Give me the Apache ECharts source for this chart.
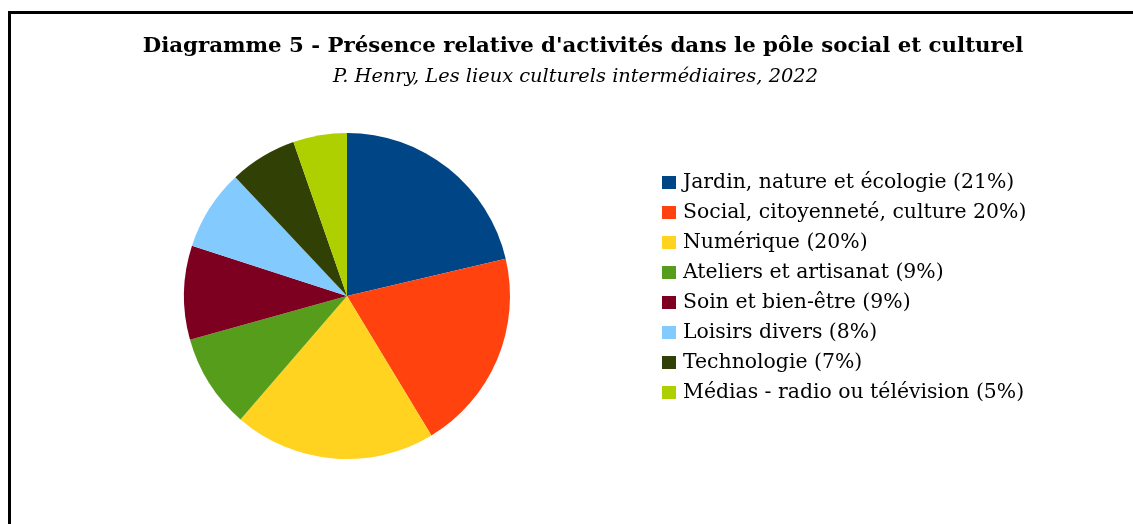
<!DOCTYPE html>
<html>
<head>
<meta charset="utf-8">
<script src="https://cdn.jsdelivr.net/npm/echarts@6/dist/echarts.min.js"></script>
<style>
html,body{margin:0;padding:0;background:#fff;}
#chart{width:1133px;height:524px;}
</style>
</head>
<body>
<div id="chart"></div>
<script>
const titleText = "Diagramme 5 - Présence relative d'activités dans le pôle social et culturel";
const subtitleText = "P. Henry, Les lieux culturels intermédiaires, 2022";
const categories = [
  "Jardin, nature et écologie (21%)",
  "Social, citoyenneté, culture 20%)",
  "Numérique (20%)",
  "Ateliers et artisanat (9%)",
  "Soin et bien-être (9%)",
  "Loisirs divers (8%)",
  "Technologie (7%)",
  "Médias - radio ou télévision (5%)"
];
const values = [16, 15, 15, 7, 7, 6, 5, 4];
const colors = ["#004586", "#ff420e", "#ffd320", "#579d1c", "#7e0021", "#83caff", "#314004", "#aecf00"];

const FONT = "'DejaVu Serif', serif";
const chart = echarts.init(document.getElementById('chart'), null, {renderer: 'canvas'});
chart.setOption({
  animation: false,
  backgroundColor: '#ffffff',
  color: colors,
  graphic: [
    {type: 'rect', shape: {x: 9.5, y: 12.5, width: 1300, height: 700}, style: {fill: 'none', stroke: '#000', lineWidth: 3}, silent: true},
    {type: 'text', x: 583, y: 46, style: {text: titleText, font: "bold 21.3px " + FONT, fill: '#000', textAlign: 'center', textVerticalAlign: 'middle'}},
    {type: 'text', x: 575.5, y: 77, style: {text: subtitleText, font: "italic 19.4px " + FONT, fill: '#000', textAlign: 'center', textVerticalAlign: 'middle'}}
  ],
  legend: {
    orient: 'vertical',
    left: 662,
    top: 171,
    icon: 'rect',
    itemWidth: 14,
    itemHeight: 13,
    itemGap: 7,
    padding: 0,
    selectedMode: false,
    textStyle: {fontFamily: FONT, fontSize: 20.4, color: '#000', lineHeight: 23, padding: [0, 0, 0, 2]},
    data: categories
  },
  series: [{
    type: 'pie',
    center: [347, 296],
    radius: 163,
    startAngle: 90,
    clockwise: true,
    label: {show: false},
    labelLine: {show: false},
    itemStyle: {borderWidth: 0},
    emphasis: {disabled: true},
    data: categories.map((c, i) => ({name: c, value: values[i]}))
  }]
});
</script>
</body>
</html>
